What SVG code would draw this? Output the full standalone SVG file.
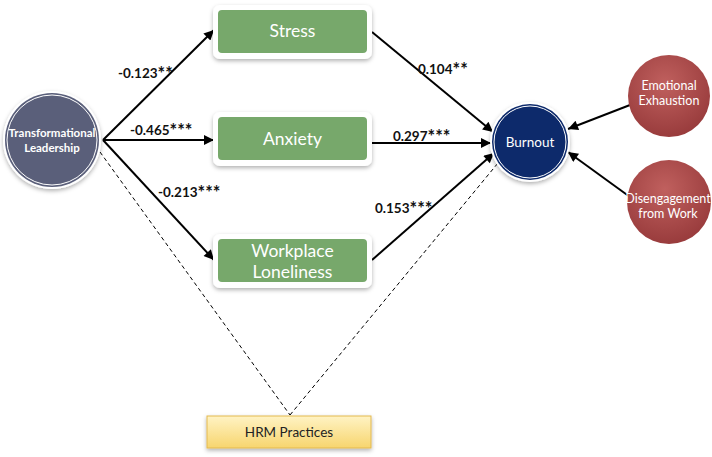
<svg xmlns="http://www.w3.org/2000/svg" width="712" height="457" viewBox="0 0 712 457">
<defs>
<style>
.lbl{font-family:Lato,"Open Sans","Liberation Sans",sans-serif;font-weight:bold;font-size:13.5px;fill:#111}
.st{font-size:18px}
.box{fill:#77a86b;stroke:#ffffff;stroke-width:2}
.bt{font-family:Lato,"Open Sans","Liberation Sans",sans-serif;font-size:17.5px;fill:#ffffff;text-anchor:middle}
.ct{font-family:Lato,"Open Sans","Liberation Sans",sans-serif;font-size:12px;fill:#ffffff;text-anchor:middle}
.arr{stroke:#000;stroke-width:2;fill:none;marker-end:url(#ah)}
.dash{stroke:#000;stroke-width:1;fill:none;stroke-dasharray:4,3}
</style>
<marker id="ah" viewBox="0 0 10 10" refX="10" refY="5" markerWidth="14" markerHeight="10" orient="auto" markerUnits="userSpaceOnUse">
<path d="M0,0 L10,5 L0,10 z" fill="#000"/>
</marker>
<radialGradient id="redg" cx="0.45" cy="0.35" r="0.7">
<stop offset="0" stop-color="#c0605e"/>
<stop offset="1" stop-color="#96393a"/>
</radialGradient>
<linearGradient id="yel" x1="0" y1="0" x2="0" y2="1">
<stop offset="0" stop-color="#fff3c4"/>
<stop offset="1" stop-color="#f7d56e"/>
</linearGradient>
<filter id="sh" x="-20%" y="-20%" width="140%" height="150%">
<feDropShadow dx="0" dy="2" stdDeviation="2" flood-color="#000" flood-opacity="0.3"/>
</filter>
</defs>
<rect width="712" height="457" fill="#ffffff"/>

<g id="connectors">
<line class="arr" x1="103" y1="140" x2="214" y2="30"/>
<line class="arr" x1="103" y1="140" x2="214" y2="140"/>
<line class="arr" x1="103" y1="140" x2="214" y2="260"/>
<line class="arr" x1="372" y1="32" x2="493" y2="132"/>
<line class="arr" x1="372" y1="143" x2="491" y2="143"/>
<line class="arr" x1="372" y1="260" x2="494" y2="153"/>
<line class="arr" x1="630" y1="105" x2="568" y2="129"/>
<line class="arr" x1="630" y1="197" x2="568" y2="152"/>
<line class="dash" x1="100" y1="152" x2="290" y2="415"/>
<line class="dash" x1="290" y1="415" x2="498" y2="163"/>
<text class="lbl" x="118" y="78">-0.123<tspan class="st" dy="2">**</tspan></text>
<text class="lbl" x="130" y="135">-0.465<tspan class="st" dy="2">***</tspan></text>
<text class="lbl" x="158" y="197">-0.213<tspan class="st" dy="2">***</tspan></text>
<text class="lbl" x="418" y="74">0.104<tspan class="st" dy="2">**</tspan></text>
<text class="lbl" x="393" y="141">0.297<tspan class="st" dy="2">***</tspan></text>
<text class="lbl" x="375" y="213">0.153<tspan class="st" dy="2">***</tspan></text>
</g>

<g id="transformational-leadership">
<circle cx="52" cy="140" r="49" fill="#ffffff" filter="url(#sh)"/>
<circle cx="52" cy="140" r="47" fill="#5a5f7a"/>
<circle cx="52" cy="140" r="45" fill="none" stroke="#ffffff" stroke-width="1"/>
<text class="ct" x="52" y="137" style="font-weight:bold;font-size:11.5px">Transformational</text>
<text class="ct" x="52" y="152" style="font-weight:bold;font-size:11.5px">Leadership</text>
</g>

<g id="stress">
<rect x="213" y="5" width="159" height="54" rx="7" fill="#ffffff" filter="url(#sh)"/>
<rect class="box" x="217" y="9" width="151" height="45" rx="5"/>
<text class="bt" x="292.5" y="37">Stress</text>
</g>

<g id="anxiety">
<rect x="213" y="112" width="159" height="54" rx="7" fill="#ffffff" filter="url(#sh)"/>
<rect class="box" x="217" y="116" width="151" height="45" rx="5"/>
<text class="bt" x="292.5" y="145">Anxiety</text>
</g>

<g id="workplace-loneliness">
<rect x="213" y="234" width="159" height="54" rx="7" fill="#ffffff" filter="url(#sh)"/>
<rect class="box" x="217" y="238" width="151" height="45" rx="5"/>
<text class="bt" x="292.5" y="257">Workplace</text>
<text class="bt" x="292.5" y="278">Loneliness</text>
</g>

<g id="burnout">
<circle cx="530" cy="142" r="40" fill="#ffffff" filter="url(#sh)"/>
<circle cx="530" cy="142" r="38" fill="#0d2a6b"/>
<circle cx="530" cy="142" r="36" fill="none" stroke="#ffffff" stroke-width="1"/>
<text class="ct" x="530" y="147" style="font-size:13.5px">Burnout</text>
</g>

<g id="emotional-exhaustion">
<circle cx="669" cy="96" r="41" fill="url(#redg)"/>
<text class="ct" x="669" y="90" style="font-size:12.5px">Emotional</text>
<text class="ct" x="669" y="105" style="font-size:12.5px">Exhaustion</text>
</g>

<g id="disengagement">
<circle cx="669" cy="202" r="42" fill="url(#redg)"/>
<text class="ct" x="668" y="203" style="font-size:12.5px">Disengagement</text>
<text class="ct" x="668" y="218" style="font-size:12.5px">from Work</text>
</g>

<g id="hrm-practices">
<rect x="207" y="416" width="164" height="32" fill="url(#yel)" stroke="#e3b94e" stroke-width="1" filter="url(#sh)"/>
<text x="289" y="437" text-anchor="middle" style="font-family:Lato,'Open Sans','Liberation Sans',sans-serif;font-size:13.5px;fill:#222">HRM Practices</text>
</g>
</svg>
